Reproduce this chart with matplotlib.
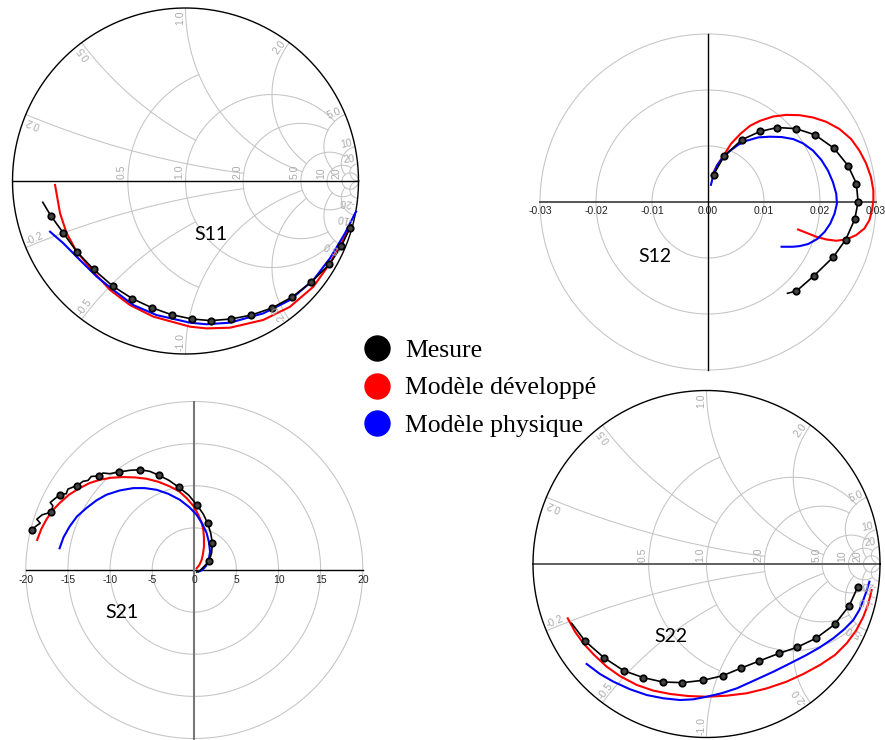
import numpy as np
import matplotlib.pyplot as plt
from matplotlib.lines import Line2D

W, H = 885, 740

# ---------------- data ----------------
# S11 (reflection coefficient, real / imag)
s11_mes_re = [-0.825, -0.779, -0.706, -0.629, -0.531, -0.419, -0.307, -0.196, -0.080, 0.040,
              0.146, 0.261, 0.381, 0.500, 0.616, 0.725, 0.832, 0.901, 0.951, 0.960]
s11_mes_im = [-0.123, -0.200, -0.301, -0.408, -0.511, -0.609, -0.680, -0.732, -0.773, -0.798,
              -0.807, -0.798, -0.775, -0.734, -0.671, -0.586, -0.482, -0.376, -0.270, -0.256]
s11_mes_mk = list(range(1, 19))
s11_dev_re = [-0.754, -0.725, -0.687, -0.629, -0.533, -0.436, -0.321, -0.186, 0.026, 0.122,
              0.257, 0.450, 0.604, 0.739, 0.835, 0.912, 0.958]
s11_dev_im = [-0.023, -0.187, -0.302, -0.408, -0.524, -0.630, -0.717, -0.784, -0.842, -0.852,
              -0.848, -0.803, -0.727, -0.611, -0.476, -0.341, -0.255]
s11_phy_re = [-0.783, -0.706, -0.610, -0.513, -0.417, -0.302, -0.167, 0.026, 0.120, 0.257,
              0.450, 0.604, 0.739, 0.835, 0.922, 0.980, 0.986]
s11_phy_im = [-0.293, -0.360, -0.457, -0.553, -0.630, -0.717, -0.775, -0.819, -0.828, -0.819,
              -0.765, -0.688, -0.572, -0.447, -0.302, -0.187, -0.177]

# S22
s22_mes_re = [-0.777, -0.700, -0.591, -0.477, -0.364, -0.252, -0.139, -0.018, 0.093, 0.197,
              0.304, 0.418, 0.522, 0.631, 0.739, 0.823, 0.871]
s22_mes_im = [-0.342, -0.444, -0.540, -0.615, -0.655, -0.680, -0.684, -0.670, -0.644, -0.601,
              -0.559, -0.515, -0.480, -0.428, -0.348, -0.240, -0.134]
s22_mes_mk = list(range(1, 17))
s22_dev_re = [-0.800, -0.758, -0.710, -0.648, -0.575, -0.499, -0.402, -0.306, -0.210, -0.105,
              0.001, 0.116, 0.232, 0.347, 0.462, 0.558, 0.654, 0.741, 0.808, 0.862,
              0.904, 0.933, 0.952]
s22_dev_im = [-0.313, -0.390, -0.457, -0.524, -0.592, -0.646, -0.697, -0.730, -0.749, -0.761,
              -0.765, -0.759, -0.745, -0.717, -0.678, -0.634, -0.582, -0.524, -0.457, -0.384,
              -0.304, -0.227, -0.150]
s22_phy_re = [-0.691, -0.614, -0.537, -0.441, -0.345, -0.249, -0.153, -0.076, 0.001, 0.087,
              0.174, 0.280, 0.385, 0.481, 0.577, 0.654, 0.731, 0.793, 0.846, 0.881,
              0.904, 0.923, 0.939]
s22_phy_im = [-0.576, -0.634, -0.678, -0.722, -0.755, -0.774, -0.784, -0.780, -0.765, -0.745,
              -0.717, -0.669, -0.621, -0.573, -0.524, -0.480, -0.428, -0.377, -0.323, -0.265,
              -0.207, -0.154, -0.102]

# S12
s12_mes_re = [0.0010, 0.0029, 0.0060, 0.0093, 0.0124, 0.0157, 0.0191, 0.0225, 0.0250, 0.0265,
              0.0268, 0.0262, 0.0246, 0.0224, 0.0189, 0.0158, 0.0142]
s12_mes_im = [0.0049, 0.0082, 0.0111, 0.0126, 0.0133, 0.0131, 0.0120, 0.0096, 0.0065, 0.0033,
              0.0000, -0.0031, -0.0067, -0.0098, -0.0132, -0.0159, -0.0163]
s12_mes_mk = list(range(0, 16))
s12_dev_re = [0.00071, 0.00160, 0.00278, 0.00408, 0.00574, 0.00751, 0.00929, 0.01166, 0.01402, 0.01639,
              0.01876, 0.02112, 0.02349, 0.02556, 0.02704, 0.02822, 0.02911, 0.02953, 0.02953, 0.02929,
              0.02882, 0.02793, 0.02645, 0.02467, 0.02290, 0.02112, 0.01935, 0.01757, 0.01609]
s12_dev_im = [0.00473, 0.00651, 0.00828, 0.01036, 0.01213, 0.01361, 0.01450, 0.01527, 0.01556, 0.01550,
              0.01509, 0.01432, 0.01302, 0.01124, 0.00917, 0.00692, 0.00444, 0.00207, 0.00030, -0.00148,
              -0.00325, -0.00473, -0.00592, -0.00669, -0.00692, -0.00669, -0.00621, -0.00550, -0.00491]
s12_phy_re = [0.00053, 0.00101, 0.00160, 0.00266, 0.00396, 0.00544, 0.00692, 0.00899, 0.01107, 0.01314,
              0.01521, 0.01698, 0.01876, 0.02024, 0.02142, 0.02231, 0.02290, 0.02302, 0.02260, 0.02183,
              0.02083, 0.01947, 0.01787, 0.01639, 0.01521, 0.01314]
s12_phy_im = [0.00308, 0.00503, 0.00651, 0.00799, 0.00917, 0.01024, 0.01095, 0.01154, 0.01166, 0.01160,
              0.01124, 0.01047, 0.00917, 0.00751, 0.00562, 0.00355, 0.00148, -0.00030, -0.00207, -0.00385,
              -0.00533, -0.00663, -0.00751, -0.00787, -0.00799, -0.00799]

# S21
s21_mes_re = [-19.29, -18.85, -18.29, -18.69, -18.06, -16.98, -16.79, -17.10, -16.47, -15.99,
              -15.20, -15.00, -14.40, -13.93, -13.21, -12.62, -12.22, -11.35, -10.83, -10.04,
              -8.93, -7.66, -6.47, -5.28, -4.17, -2.99, -1.87, -0.67, 0.36, 1.07, 1.59, 1.95,
              2.14, 2.06, 1.75, 0.67, 0.28]
s21_mes_im = [4.76, 5.16, 5.56, 6.03, 6.55, 6.87, 7.62, 8.02, 8.53, 8.93,
              9.05, 9.60, 9.84, 10.00, 10.52, 10.63, 11.11, 11.15, 11.51, 11.43,
              11.63, 11.83, 11.90, 11.71, 11.23, 10.63, 9.84, 8.89, 7.66, 6.63, 5.52, 4.37,
              3.21, 2.06, 1.03, -0.08, -0.24]
s21_mes_mk = [0, 5, 9, 13, 17, 20, 22, 24, 26, 28, 30, 32, 34]
s21_dev_re = [-18.65, -18.17, -17.58, -16.87, -15.99, -14.88, -13.61, -12.42, -11.23, -9.84,
              -8.45, -7.06, -5.67, -4.29, -2.90, -1.79, -0.91, -0.12, 0.48, 0.87,
              1.07, 1.15, 1.15, 1.03, 0.87, 0.60, 0.28]
s21_dev_im = [3.57, 4.84, 5.95, 7.02, 7.94, 8.93, 9.72, 10.32, 10.71, 10.95,
              11.03, 10.99, 10.83, 10.48, 9.92, 9.33, 8.53, 7.62, 6.55, 5.63,
              4.76, 3.77, 2.78, 1.90, 1.19, 0.60, 0.20]
s21_phy_re = [-15.99, -15.52, -14.80, -13.93, -12.82, -11.63, -10.44, -8.85, -7.26, -5.87,
              -4.48, -3.10, -1.71, -0.60, 0.28, 0.95, 1.47, 1.75, 1.87, 1.71,
              1.39, 0.95, 0.48]
s21_phy_im = [2.58, 3.89, 5.16, 6.35, 7.34, 8.25, 8.93, 9.44, 9.72, 9.72,
              9.52, 9.05, 8.33, 7.46, 6.55, 5.48, 4.37, 3.25, 2.18, 1.19,
              0.48, 0.00, -0.20]

legend_labels = ['Mesure', 'Modèle développé', 'Modèle physique']

# Smith grid: (value, clip limit)
r_grid = [(0.5, 1), (1, 5), (2, 5), (5, 10), (10, 20), (20, None)]
x_grid = [(0.2, 2), (0.5, 1), (1, 5), (2, 5), (5, 10), (10, 20), (20, None)]
r_labels = ['0.5', '1.0', '2.0', '5.0', '10', '20']
x_labels = ['0.2', '0.5', '1.0', '2.0', '5.0', '10', '20']

GRID = '#c4c4c4'
LAB = '#ababab'

fig = plt.figure(figsize=(W / 100, H / 100), dpi=100)


def chart_axes(cx, cy, rpx, h, m=1.08):
    R = rpx * m
    ax = fig.add_axes([(cx - R) / W, 1 - (cy + R) / H, 2 * R / W, 2 * R / H])
    ax.set_xlim(-h * m, h * m)
    ax.set_ylim(-h * m, h * m)
    ax.axis('off')
    return ax


def smith_grid(ax, axis_color, axis_lw):
    t = np.linspace(0, 2 * np.pi, 500)
    for r, xmax in r_grid:
        c, rho = r / (1 + r), 1 / (1 + r)
        phi0 = 0.0
        if xmax is not None:
            g = (r + 1j * xmax - 1) / (r + 1j * xmax + 1)
            phi0 = np.angle(g - c)
        phi = np.linspace(phi0, 2 * np.pi - phi0, 300)
        ax.plot(c + rho * np.cos(phi), rho * np.sin(phi), color=GRID, lw=0.75)
    for x, rmax in x_grid:
        smax = np.arctan(rmax) if rmax is not None else np.pi / 2 * 0.9999
        rr = np.tan(np.linspace(0, smax, 400))
        for sx in (x, -x):
            g = (rr + 1j * sx - 1) / (rr + 1j * sx + 1)
            ax.plot(g.real, g.imag, color=GRID, lw=0.75)
    ax.plot([-1, 1], [0, 0], color=axis_color, lw=axis_lw)
    ax.plot(np.cos(t), np.sin(t), color='black', lw=1.0)
    for (r, _), lab in zip(r_grid, r_labels):
        g = (r - 1) / (r + 1)
        ax.text(g - 0.006, 0.012, lab, rotation=90, rotation_mode='anchor', ha='left', va='bottom',
                color=LAB, fontsize=7.5, family='Liberation Sans')
    for (x, _), lab in zip(x_grid, x_labels):
        g = (1j * x - 1) / (1j * x + 1)
        th = np.angle(g)
        px, py = 0.985 * np.cos(th), 0.985 * np.sin(th)
        ax.text(px, py, lab, rotation=np.degrees(th), rotation_mode='anchor', ha='right', va='bottom',
                color=LAB, fontsize=7.5, family='Liberation Sans')
        ax.text(px, -py, '-' + lab, rotation=180 - np.degrees(th), rotation_mode='anchor', ha='left',
                va='bottom', color=LAB, fontsize=7.5, family='Liberation Sans')


def polar_grid(ax, rings, ticks, fmt, off, hcol, hlw, vcol, vlw):
    t = np.linspace(0, 2 * np.pi, 500)
    for rr in rings:
        ax.plot(rr * np.cos(t), rr * np.sin(t), color=GRID, lw=0.75)
    rmax = rings[-1]
    ax.plot([-rmax, rmax], [0, 0], color=hcol, lw=hlw)
    ax.plot([0, 0], [-rmax, rmax], color=vcol, lw=vlw)
    for v in ticks:
        ax.text(v, -off, fmt % v, ha='center', va='top', fontsize=7.5, family='Liberation Sans',
                color='#222222', clip_on=False)


def curves(ax, mre, mim, mk, dre, dim, pre, pim):
    ax.plot(dre, dim, color='#ff0000', lw=1.5, solid_joinstyle='round')
    ax.plot(pre, pim, color='#0000ff', lw=1.5, solid_joinstyle='round')
    ax.plot(mre, mim, color='black', lw=1.2, solid_joinstyle='round')
    ax.plot(np.array(mre)[mk], np.array(mim)[mk], ls='none', marker='o', ms=4.6,
            mfc='#444444', mec='black', mew=1.3)


# S11
ax11 = chart_axes(185.5, 181, 173, 1.0)
smith_grid(ax11, 'black', 1.0)
curves(ax11, s11_mes_re, s11_mes_im, s11_mes_mk, s11_dev_re, s11_dev_im, s11_phy_re, s11_phy_im)

# S22
ax22 = chart_axes(706.5, 564, 173.5, 1.0)
smith_grid(ax22, '#606060', 1.4)
curves(ax22, s22_mes_re, s22_mes_im, s22_mes_mk, s22_dev_re, s22_dev_im, s22_phy_re, s22_phy_im)

# S12
ax12 = chart_axes(708, 202, 168, 0.03)
polar_grid(ax12, [0.01, 0.02, 0.03], np.arange(-0.03, 0.031, 0.01), '%.2f', 0.0008,
           '#555555', 1.4, 'black', 1.0)
curves(ax12, s12_mes_re, s12_mes_im, s12_mes_mk, s12_dev_re, s12_dev_im, s12_phy_re, s12_phy_im)

# S21
ax21 = chart_axes(194.3, 570, 168.5, 20)
polar_grid(ax21, [5, 10, 15, 20], np.arange(-20, 21, 5), '%d', 0.6,
           'black', 1.0, '#777777', 1.5)
curves(ax21, s21_mes_re, s21_mes_im, s21_mes_mk, s21_dev_re, s21_dev_im, s21_phy_re, s21_phy_im)

# panel names
for name, (x, y) in zip(['S11', 'S12', 'S21', 'S22'],
                        [(211, 235), (655, 257), (122, 612), (671, 637)]):
    fig.text(x / W, 1 - y / H, name, ha='center', va='center', fontsize=14, family='Lato')

# legend
handles = [Line2D([], [], ls='none', marker='o', ms=18, mfc=c, mec=c)
           for c in ['black', '#ff0000', '#0000ff']]
fig.legend(handles, legend_labels, loc='center left', bbox_to_anchor=(351.5 / W, 1 - 388 / H),
           frameon=False, prop={'family': 'Liberation Serif', 'size': 18.5},
           handlelength=1.0, handletextpad=0.58, labelspacing=0.55, borderpad=0)

fig.savefig('out.png', dpi=100)
